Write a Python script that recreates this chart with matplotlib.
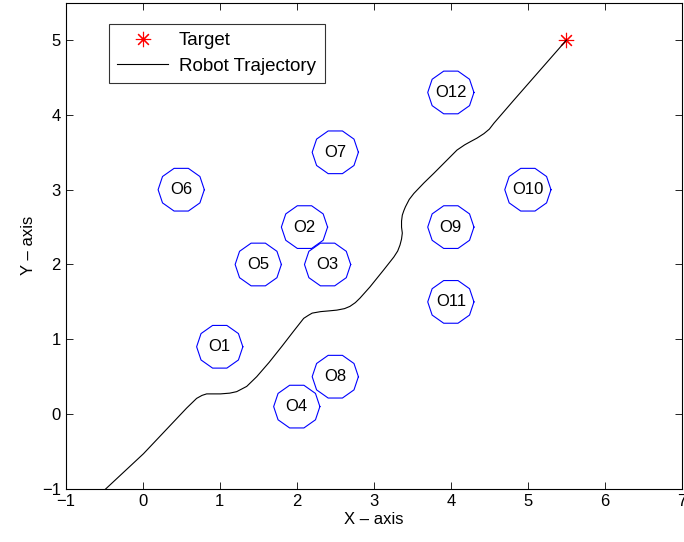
import numpy as np
import matplotlib.pyplot as plt

plt.rcParams['font.family'] = ['Liberation Sans', 'DejaVu Sans']

# obstacle centres and names
obs_x = [1.0, 2.1, 2.4, 2.0, 1.5, 0.5, 2.5, 2.5, 4.0, 5.0, 4.0, 4.0]
obs_y = [0.9, 2.5, 2.0, 0.1, 2.0, 3.0, 3.5, 0.5, 2.5, 3.0, 1.5, 4.3]
obs_names = ['O1', 'O2', 'O3', 'O4', 'O5', 'O6', 'O7', 'O8', 'O9', 'O10', 'O11', 'O12']
obs_r = 0.3

target = (5.5, 5.0)

# robot path
path_x = [-0.49, 0.01, 0.57, 0.64, 0.70, 0.77, 0.83, 0.92, 1.01, 1.13, 1.22, 1.35, 1.48,
          1.64, 1.81, 1.96, 2.09, 2.15, 2.20, 2.31, 2.42, 2.52, 2.62, 2.69, 2.76, 2.82,
          2.95, 3.13, 3.26, 3.31, 3.34, 3.36, 3.37, 3.36, 3.36, 3.37, 3.39, 3.41, 3.46,
          3.52, 3.65, 3.78, 4.08, 4.18, 4.25, 4.34, 4.43, 4.50, 4.56, 4.82, 5.16, 5.50]
path_y = [-1.01, -0.53, 0.08, 0.15, 0.21, 0.25, 0.27, 0.27, 0.27, 0.28, 0.30, 0.37, 0.50,
          0.69, 0.91, 1.11, 1.28, 1.32, 1.35, 1.37, 1.38, 1.39, 1.41, 1.44, 1.49, 1.55,
          1.70, 1.93, 2.10, 2.18, 2.26, 2.34, 2.42, 2.50, 2.58, 2.66, 2.72, 2.77, 2.87,
          2.95, 3.09, 3.22, 3.53, 3.60, 3.64, 3.69, 3.75, 3.81, 3.89, 4.20, 4.60, 5.00]

fig = plt.figure(figsize=(6.84, 5.42), dpi=100)
ax = fig.add_axes([0.096, 0.098, 0.901, 0.897])

ax.plot(target[0], target[1], marker=(8, 2, 0), color='red', markersize=11,
        markeredgewidth=0.8, linestyle='none', label='Target')
ax.plot(path_x, path_y, color='black', linewidth=0.8, label='Robot Trajectory')

theta = np.linspace(0, 2 * np.pi, 11)
for cx, cy, name in zip(obs_x, obs_y, obs_names):
    ax.plot(cx + obs_r * np.cos(theta), cy + obs_r * np.sin(theta), color='blue', linewidth=0.8)
    ax.text(cx, cy, name, ha='center', va='center', fontsize=12)

ax.set_xlim(-1, 7)
ax.set_ylim(-1, 5.5)
ax.set_xticks(range(-1, 8))
ax.set_yticks(range(-1, 6))
ax.tick_params(direction='in', top=True, right=True, labelsize=12, length=5, width=0.6)
ax.set_xlabel('X \u2013 axis', fontsize=12, labelpad=2)
ax.set_ylabel('Y \u2013 axis', fontsize=12)

leg = ax.legend(loc='upper left', bbox_to_anchor=(0.070, 0.957), fontsize=13.5, frameon=True,
                fancybox=False, edgecolor='black', borderpad=0.45, handlelength=2.7,
                handletextpad=0.6, labelspacing=0.45, borderaxespad=0)
leg.get_frame().set_linewidth(0.8)

fig.savefig('out.png', dpi=100)
